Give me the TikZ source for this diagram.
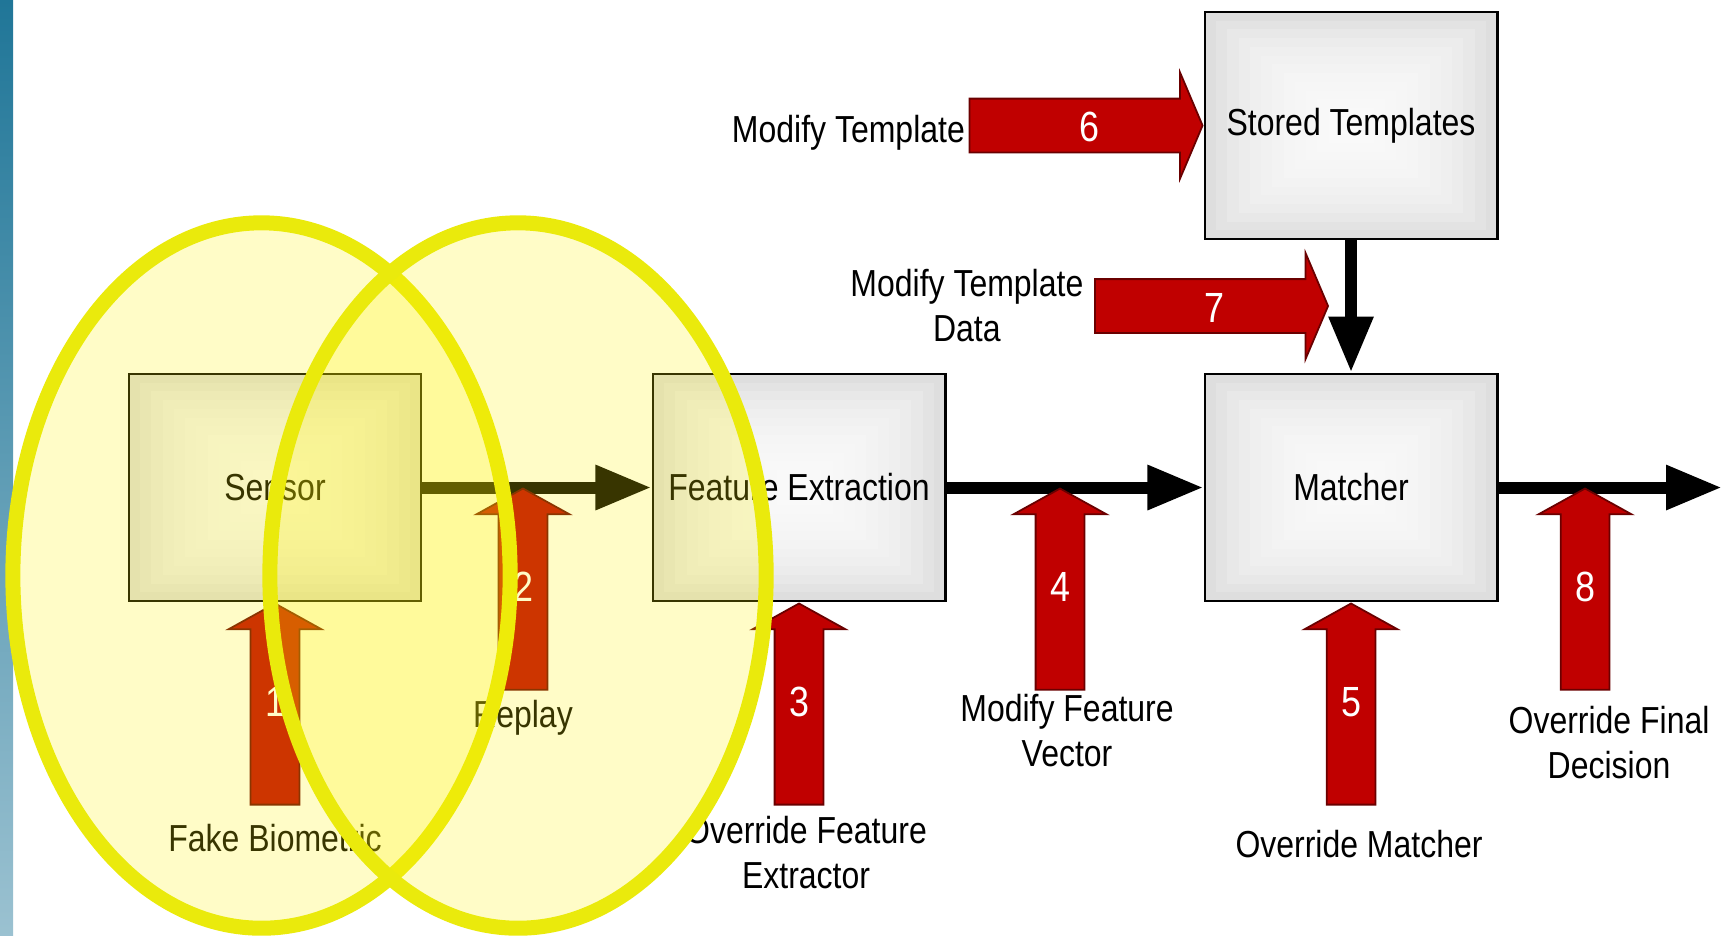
\documentclass[tikz,border=0pt]{standalone}
\usepackage{fontspec}
\setmainfont{Liberation Sans}[FakeStretch=0.85]
\usetikzlibrary{shapes.arrows,arrows.meta,positioning,calc}
\definecolor{attackred}{RGB}{192,0,0}
\definecolor{ovalyellow}{RGB}{234,234,12}
\definecolor{boxgray}{RGB}{222,222,222}
\definecolor{stripblue}{RGB}{32,118,152}

\begin{document}
\begin{tikzpicture}[x=0.01cm,y=-0.01cm,
		font=\fontsize{10.7pt}{12.8pt}\selectfont,
		block/.style={draw,line width=0.8pt,fill=boxgray,minimum width=2.92cm,minimum height=2.27cm,inner sep=0pt,
			path picture={
				\foreach \k in {1,...,12}
					\fill[white,fill opacity=0.18]
					($(path picture bounding box.south west)!\k/26!(path picture bounding box.north east)$) rectangle
					($(path picture bounding box.north east)!\k/26!(path picture bounding box.south west)$);
			}},
		flow/.style={line width=0.12cm,-{Triangle[length=0.56cm,width=0.42cm]}},
		attack/.style={single arrow,fill=attackred,draw=attackred!55!black,line width=0.5pt,text=white,
			inner sep=0pt,font=\fontsize{12pt}{14pt}\selectfont},
		upattack/.style={attack,shape border rotate=90,single arrow tip angle=122,single arrow head extend=0.22cm,
			minimum height=2.01cm,text width=0.47cm,align=center,text height=0.3cm,text depth=0.18cm},
		rightattack/.style={attack,single arrow tip angle=134,single arrow head extend=0.26cm,
			minimum height=2.33cm,text height=0.42cm,text depth=0.1cm,text width=0.38cm,align=right},
		lbl/.style={inner sep=0pt,align=center},
		oval/.style={draw=ovalyellow,line width=0.15cm,fill=yellow,fill opacity=0.22}]
	\useasboundingbox (0,0) rectangle (1722,935);
	\shade[top color=stripblue,bottom color=stripblue!45!white] (0,0) rectangle (13,935);

	\node[block] (sensor) at (275,487.5) {Sensor};
	\node[block] (fe) at (799,487.5) {Feature Extraction};
	\node[block] (matcher) at (1351,487.5) {Matcher};
	\node[block] (stored) at (1351,125.5) {Stored Templates};
	\coordinate (out) at (1722,487.5);

	\draw[flow] (sensor) -- (fe);
	\draw[flow] (fe) -- (matcher);
	\draw[flow] (matcher) -- (out);
	\draw[flow] (stored) -- (matcher);

	\node[upattack,anchor=tip] (a1) at (sensor.south) {1};
	\node[upattack,anchor=tip] (a2) at (523,487.5) {2};
	\node[upattack,anchor=tip] (a3) at (fe.south) {3};
	\node[upattack,anchor=tip] (a4) at (1060,487.5) {4};
	\node[upattack,anchor=tip] (a5) at (matcher.south) {5};
	\node[upattack,anchor=tip] (a8) at (1585,487.5) {8};
	\node[rightattack,anchor=tip] (a6) at (stored.west) {6};
	\node[rightattack,anchor=tip] (a7) at (1329,306) {7};

	\node[lbl,below=0.18cm of a1] (fake) {Fake Biometric};
	\node[lbl,below=0.09cm of a2] (replay) {Replay};
	\node[lbl,below=0.10cm of a3,xshift=0.07cm] (ovfe) {Override Feature\\Extractor};
	\node[lbl,below=0.03cm of a4,xshift=0.07cm] (modfv) {Modify Feature\\Vector};
	\node[lbl,below=0.24cm of a5,xshift=0.08cm] (ovmatch) {Override Matcher};
	\node[lbl,below=0.15cm of a8,xshift=0.24cm] (ovdec) {Override Final\\Decision};
	\node[lbl,left=0.03cm of a6,yshift=-0.075cm] (modtpl) {Modify Template};
	\node[lbl,left=0.10cm of a7] (modtd) {Modify Template\\Data};

	\draw[oval] (261.5,575.5) ellipse [x radius=2.485cm,y radius=3.525cm];
	\draw[oval] (518,575.5) ellipse [x radius=2.48cm,y radius=3.525cm];
\end{tikzpicture}
\end{document}
